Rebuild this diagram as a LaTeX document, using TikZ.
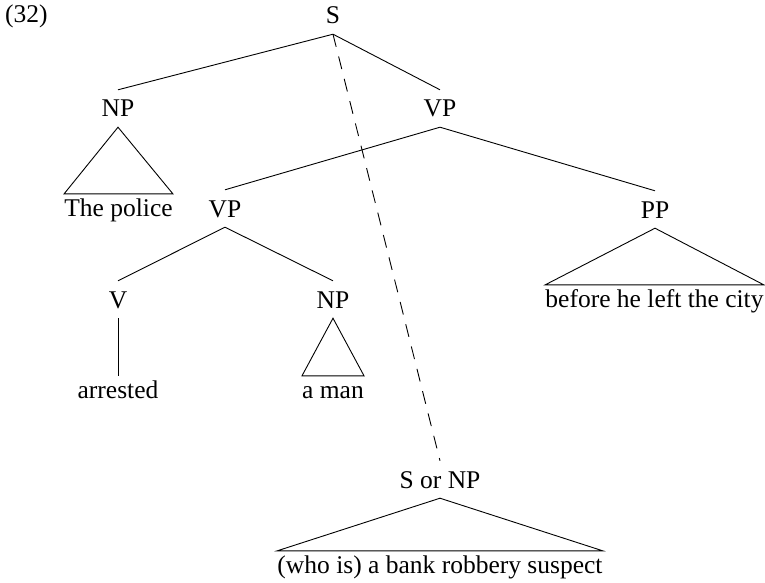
\documentclass[tikz,border=0pt]{standalone}
\usepackage{fontspec}
\setmainfont{Liberation Serif}
\usepackage{tikz}
\usetikzlibrary{positioning}

\begin{document}
\begin{tikzpicture}[
    x=1pt, y=-1pt,
    every node/.style={font=\fontsize{25.5pt}{30pt}\selectfont},
    cat/.style={anchor=base, text height=18pt, text depth=1pt, inner xsep=0pt, inner ysep=9pt},
    leaf/.style={anchor=base, text height=18pt, text depth=5pt, inner xsep=0pt, inner ysep=4pt},
    branch/.style={line width=0.9pt},
    movement/.style={line width=0.9pt, dash pattern=on 13pt off 10pt}
]
\useasboundingbox (0,0) rectangle (765,583);
\node[anchor=base west, inner sep=0pt] (exno) at (5,23) {(32)};
\node[cat] (s) at (333,24) {S};
\node[cat] (np1) at (118,117) {NP};
\node[cat] (vp1) at (440,117) {VP};
\node[leaf] (police) at (118.5,216) {The police};
\node[cat] (vp2) at (225,217) {VP};
\node[cat] (pp) at (655,218) {PP};
\node[leaf] (city) at (654.5,307) {before he left the city};
\node[cat] (v) at (118,308) {V};
\node[cat] (np2) at (333,308) {NP};
\node[leaf] (arrested) at (118,398) {arrested};
\node[leaf] (man) at (333,398) {a man};
\node[cat] (snp) at (440,488) {S or NP};
\node[leaf] (suspect) at (440,573) {(who is) a bank robbery suspect};
\draw[branch] (s.south) -- (np1.north);
\draw[branch] (s.south) -- (vp1.north);
\draw[branch] (np1.south) -- (police.north west) -- (police.north east) -- cycle;
\draw[branch] (vp1.south) -- (vp2.north);
\draw[branch] (vp1.south) -- (pp.north);
\draw[branch] (pp.south) -- (city.north west) -- (city.north east) -- cycle;
\draw[branch] (vp2.south) -- (v.north);
\draw[branch] (vp2.south) -- (np2.north);
\draw[branch] (v.south) -- (arrested.north);
\draw[branch] (np2.south) -- (man.north west) -- (man.north east) -- cycle;
\draw[branch] (snp.south) -- (suspect.north west) -- (suspect.north east) -- cycle;
\draw[movement] (s.south) -- (snp.north);
\end{tikzpicture}
\end{document}
